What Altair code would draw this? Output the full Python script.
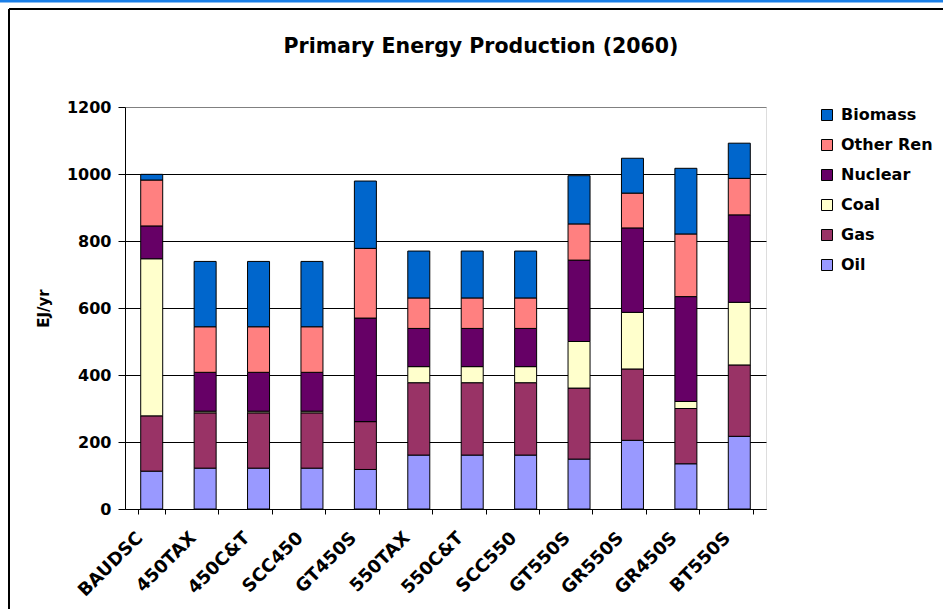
import altair as alt
import pandas as pd

# Scenario names along the x axis
scenarios = ["BAUDSC", "450TAX", "450C&T", "SCC450", "GT450S", "550TAX",
             "550C&T", "SCC550", "GT550S", "GR550S", "GR450S", "BT550S"]

# Primary energy by source, EJ/yr
oil = [113, 122, 122, 122, 118, 161, 161, 161, 149, 205, 135, 217]
gas = [165, 165, 165, 165, 143, 216, 216, 216, 212, 213, 165, 213]
coal = [469, 5, 5, 5, 0, 48, 48, 48, 139, 169, 21, 187]
nuclear = [98, 116, 116, 116, 309, 114, 114, 114, 243, 252, 313, 261]
other_ren = [137, 136, 136, 136, 208, 91, 91, 91, 108, 104, 187, 109]
biomass = [17, 195, 195, 195, 201, 140, 140, 140, 144, 104, 196, 105]

# Stack order bottom to top, and matching fill colours
sources = ["Oil", "Gas", "Coal", "Nuclear", "Other Ren", "Biomass"]
colors = ["#9999FF", "#993366", "#FFFFCC", "#660066", "#FF8080", "#0066CC"]
series = [oil, gas, coal, nuclear, other_ren, biomass]

chart_title = "Primary Energy Production (2060)"

rows = []
for rank, (src, vals) in enumerate(zip(sources, series)):
    for sc, v in zip(scenarios, vals):
        rows.append({"scenario": sc, "source": src, "value": v, "rank": rank})
df = pd.DataFrame(rows)
single = pd.DataFrame({"label": [chart_title]})

FONT = "DejaVu Sans"

bars = alt.Chart(df).mark_bar(size=22, stroke="black", strokeWidth=1).encode(
    x=alt.X("scenario:N", sort=scenarios, title=None,
            scale=alt.Scale(paddingInner=0.5, paddingOuter=0.25),
            axis=alt.Axis(labelAngle=-45, labelAlign="right", labelBaseline="middle",
                          labelFont=FONT, labelFontWeight="bold", labelFontSize=18,
                          labelColor="black", labelPadding=21, labelOffset=-12,
                          tickBand="extent", tickSize=5, tickColor="black",
                          domainColor="black", grid=False, labelOverlap=False)),
    y=alt.Y("sum(value):Q", title="EJ/yr",
            scale=alt.Scale(domain=[0, 1200], nice=False),
            axis=alt.Axis(values=[0, 200, 400, 600, 800, 1000, 1200], format="d",
                          labelFont=FONT, labelFontWeight="bold", labelFontSize=16,
                          labelColor="black", labelPadding=7, tickSize=7,
                          tickColor="black", domainColor="black",
                          gridColor={"condition": {"test": "datum.value === 1200",
                                                   "value": "#808080"},
                                     "value": "black"},
                          gridWidth=1,
                          titleFont=FONT, titleFontWeight="bold", titleFontSize=15,
                          titleColor="black", titlePadding=15)),
    color=alt.Color("source:N",
                    scale=alt.Scale(domain=sources[::-1], range=colors[::-1]),
                    legend=alt.Legend(title=None, orient="none", legendX=694, legendY=0,
                                      symbolType="square", symbolSize=121,
                                      symbolStrokeColor="black", symbolStrokeWidth=1,
                                      labelFont=FONT, labelFontWeight="bold",
                                      labelFontSize=16, labelColor="black",
                                      labelOffset=6, rowPadding=14)),
    order=alt.Order("rank:Q", sort="ascending"),
)

# Chart heading, centred over the chart sheet
heading = alt.Chart(single).mark_text(
    font=FONT, fontWeight="bold", fontSize=20.5, color="black",
    align="center", baseline="alphabetic"
).encode(x=alt.value(356), y=alt.value(-54), text="label:N")

# Outer frame and top strip of the chart sheet
strip = alt.Chart(single).mark_rule(color="#1a7fe8", strokeWidth=3).encode(
    x=alt.value(-125), x2=alt.value(818), y=alt.value(-106)
)
frame_top = alt.Chart(single).mark_rule(color="black", strokeWidth=2).encode(
    x=alt.value(-116), x2=alt.value(818), y=alt.value(-98)
)
frame_left = alt.Chart(single).mark_rule(color="black", strokeWidth=2).encode(
    x=alt.value(-116), y=alt.value(-98), y2=alt.value(502)
)

chart = alt.layer(bars, heading, strip, frame_top, frame_left).properties(
    width=641, height=402,
    autosize=alt.AutoSizeParams(type="none"),
    padding={"left": 125, "top": 107, "right": 177, "bottom": 102},
).configure_view(stroke="#808080", strokeWidth=1).configure(background="white")

chart.save("out.html", embed_options={"renderer": "svg", "actions": False})
